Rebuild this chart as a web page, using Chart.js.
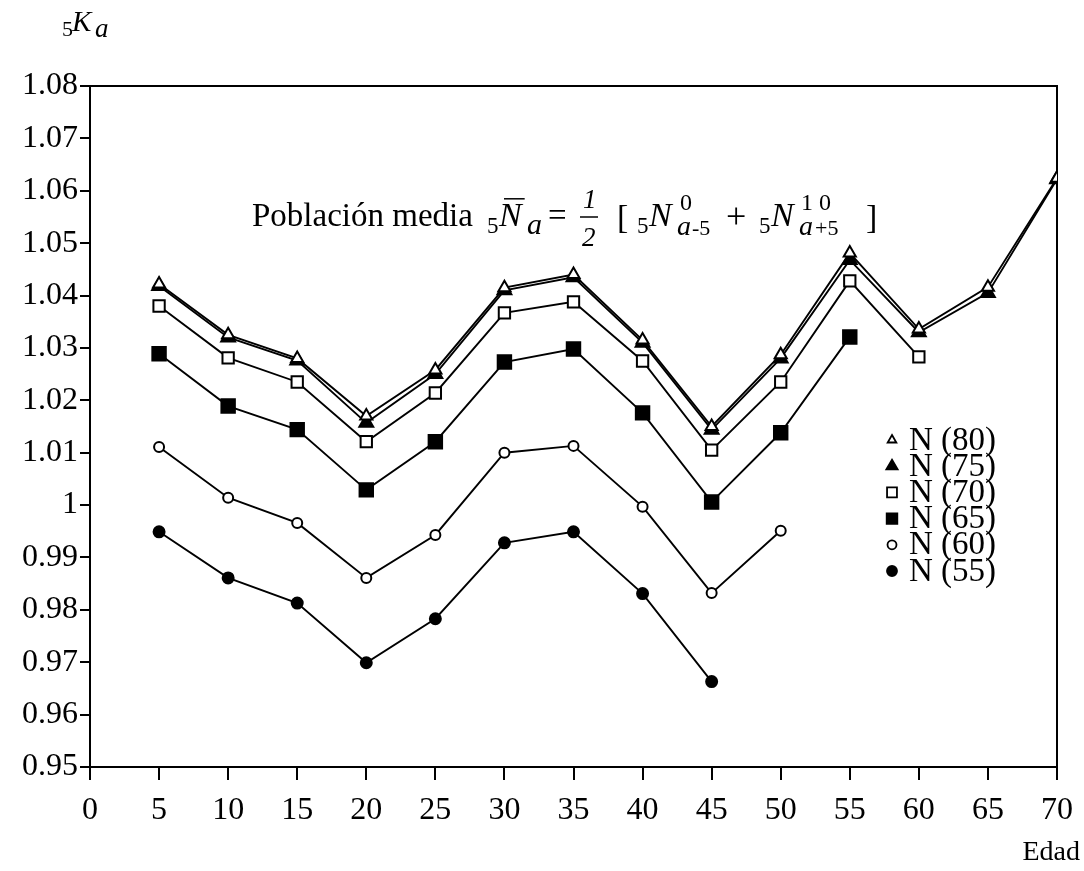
<!DOCTYPE html>
<html>
<head>
<meta charset="utf-8">
<script src="https://cdn.jsdelivr.net/npm/chart.js@4/dist/chart.umd.min.js"></script>
<style>
  body { margin: 0; background: #fff; }
  canvas { display: block; }
</style>
</head>
<body>
<canvas id="kChart" width="1084" height="871"></canvas>
<script>
// Edad (eje x) y valores de 5Ka para cada serie N(año)
const ages = [5, 10, 15, 20, 25, 30, 35, 40, 45, 50, 55, 60, 65, 70];
const n80 = [1.0422, 1.0325, 1.0280, 1.0170, 1.0258, 1.0415, 1.0440, 1.0315, 1.0150, 1.0287, 1.0481, 1.0336, 1.0416, 1.0624];
const n75 = [1.0418, 1.0320, 1.0276, 1.0157, 1.0250, 1.0410, 1.0435, 1.0310, 1.0144, 1.0280, 1.0468, 1.0330, 1.0405, 1.0622];
const n70 = [1.0380, 1.0281, 1.0235, 1.0121, 1.0214, 1.0367, 1.0388, 1.0275, 1.0105, 1.0235, 1.0428, 1.0283];
const n65 = [1.0289, 1.0189, 1.0144, 1.0029, 1.0121, 1.0273, 1.0298, 1.0176, 1.0006, 1.0138, 1.0321];
const n60 = [1.0111, 1.0014, 0.9966, 0.9861, 0.9943, 1.0100, 1.0113, 0.9997, 0.9832, 0.9951];
const n55 = [0.9949, 0.9861, 0.9813, 0.9699, 0.9783, 0.9928, 0.9949, 0.9831, 0.9663];
const seriesLabels = ['N (80)', 'N (75)', 'N (70)', 'N (65)', 'N (60)', 'N (55)'];

const SERIF = '"Liberation Serif", "DejaVu Serif", serif';

function points(values) {
    return values.map((v, i) => ({ x: ages[i], y: v }));
}

function series(label, values, style, filled, radius, legendRadius) {
    return {
        label: label,
        data: points(values),
        borderColor: '#000',
        borderWidth: 1.9,
        pointStyle: style,
        pointRadius: radius,
        pointBorderWidth: 2,
        pointBorderColor: '#000',
        pointBackgroundColor: filled ? '#000' : '#fff',
        legendRadius: legendRadius,
        tension: 0,
        fill: false
    };
}

// marco superior y derecho del área de trazado
const framePlugin = {
    id: 'frame',
    beforeDatasetsDraw(chart) {
        const { ctx, chartArea: a } = chart;
        ctx.save();
        ctx.strokeStyle = '#000';
        ctx.lineWidth = 2;
        ctx.beginPath();
        ctx.moveTo(a.left, a.top);
        ctx.lineTo(a.right, a.top);
        ctx.lineTo(a.right, a.bottom);
        ctx.stroke();
        ctx.restore();
    }
};

// cada trozo: texto, x, línea base, tamaño, cursiva
function drawPieces(ctx, pieces) {
    pieces.forEach(p => {
        ctx.font = (p.italic ? 'italic ' : '') + p.size + 'px ' + SERIF;
        ctx.fillText(p.text, p.x, p.y);
        if (p.bar) {
            const w = ctx.measureText(p.text).width;
            ctx.beginPath();
            ctx.moveTo(p.x + 5, p.y - p.size * 0.8);
            ctx.lineTo(p.x + w + 3, p.y - p.size * 0.8);
            ctx.lineWidth = 1.5;
            ctx.stroke();
        }
    });
}

const textPlugin = {
    id: 'annotations',
    afterDraw(chart) {
        const { ctx, chartArea: a } = chart;
        ctx.save();
        ctx.fillStyle = '#000';
        ctx.strokeStyle = '#000';
        ctx.textBaseline = 'alphabetic';
        ctx.textAlign = 'left';

        // título del eje y: 5Ka
        drawPieces(ctx, [
            { text: '5', x: 62, y: 36, size: 22 },
            { text: 'K', x: 72, y: 31, size: 29, italic: true },
            { text: 'a', x: 95, y: 37, size: 27, italic: true }
        ]);

        // título del eje x
        ctx.font = '28px ' + SERIF;
        ctx.textAlign = 'right';
        ctx.fillText('Edad', 1080, 860);
        ctx.textAlign = 'left';

        // fórmula de la población media
        drawPieces(ctx, [
            { text: 'Población media', x: 252, y: 226, size: 33 },
            { text: '5', x: 487, y: 233, size: 23 },
            { text: 'N', x: 499, y: 226, size: 34, italic: true, bar: true },
            { text: 'a', x: 527, y: 234, size: 30, italic: true },
            { text: '=', x: 548, y: 226, size: 33 },
            { text: '1', x: 583, y: 208, size: 27, italic: true },
            { text: '2', x: 582, y: 246, size: 27, italic: true },
            { text: '[', x: 617, y: 228, size: 34 },
            { text: '5', x: 637, y: 233, size: 23 },
            { text: 'N', x: 649, y: 226, size: 34, italic: true },
            { text: '0', x: 680, y: 210, size: 24 },
            { text: 'a', x: 677, y: 235, size: 28, italic: true },
            { text: '-5', x: 692, y: 235, size: 22 },
            { text: '+', x: 726, y: 228, size: 36 },
            { text: '5', x: 759, y: 233, size: 23 },
            { text: 'N', x: 771, y: 226, size: 34, italic: true },
            { text: '1 0', x: 801, y: 210, size: 24 },
            { text: 'a', x: 799, y: 235, size: 28, italic: true },
            { text: '+5', x: 815, y: 235, size: 22 },
            { text: ']', x: 866, y: 228, size: 34 }
        ]);
        ctx.beginPath();
        ctx.lineWidth = 1.5;
        ctx.moveTo(580, 217);
        ctx.lineTo(598, 217);
        ctx.stroke();

        // leyenda dentro del área de trazado
        const lx = a.right - 165;
        const ly0 = 440;
        const step = 26.2;
        chart.data.datasets.forEach((ds, i) => {
            const y = ly0 + i * step;
            ctx.fillStyle = ds.pointBackgroundColor;
            ctx.strokeStyle = '#000';
            ctx.lineWidth = 1.8;
            Chart.helpers.drawPoint(ctx, {
                pointStyle: ds.pointStyle,
                radius: ds.legendRadius,
                rotation: 0,
                borderWidth: 1.8
            }, lx, y);
            ctx.fillStyle = '#000';
            ctx.font = '33px ' + SERIF;
            ctx.textBaseline = 'middle';
            ctx.fillText(ds.label, lx + 17, y + 1);
        });
        ctx.restore();
    }
};

new Chart(document.getElementById('kChart'), {
    type: 'line',
    data: {
        datasets: [
            series(seriesLabels[0], n80, 'triangle', false, 7, 5),
            series(seriesLabels[1], n75, 'triangle', true, 8, 6.5),
            series(seriesLabels[2], n70, 'rect', false, 8, 7),
            series(seriesLabels[3], n65, 'rect', true, 9.5, 7.5),
            series(seriesLabels[4], n60, 'circle', false, 5, 4.5),
            series(seriesLabels[5], n55, 'circle', true, 5.5, 5)
        ]
    },
    options: {
        responsive: false,
        animation: false,
        layout: { padding: { top: 86, right: 25, bottom: 0, left: 0 } },
        plugins: {
            legend: { display: false },
            tooltip: { enabled: false }
        },
        scales: {
            x: {
                type: 'linear',
                min: 0,
                max: 70,
                afterFit(scale) { scale.height = 104; },
                ticks: {
                    stepSize: 5,
                    color: '#000',
                    padding: 11,
                    font: { family: SERIF, size: 32 }
                },
                grid: { drawOnChartArea: false, drawTicks: true, tickLength: 13, color: '#000', lineWidth: 2 },
                border: { color: '#000', width: 2 }
            },
            y: {
                min: 0.95,
                max: 1.08,
                afterFit(scale) { scale.width = 90; },
                ticks: {
                    stepSize: 0.01,
                    color: '#000',
                    padding: 2,
                    font: { family: SERIF, size: 32 },
                    callback: v => String(Number(v.toFixed(2)))
                },
                grid: { drawOnChartArea: false, drawTicks: true, tickLength: 10, color: '#000', lineWidth: 2 },
                border: { color: '#000', width: 2 }
            }
        }
    },
    plugins: [framePlugin, textPlugin]
});
</script>
</body>
</html>
